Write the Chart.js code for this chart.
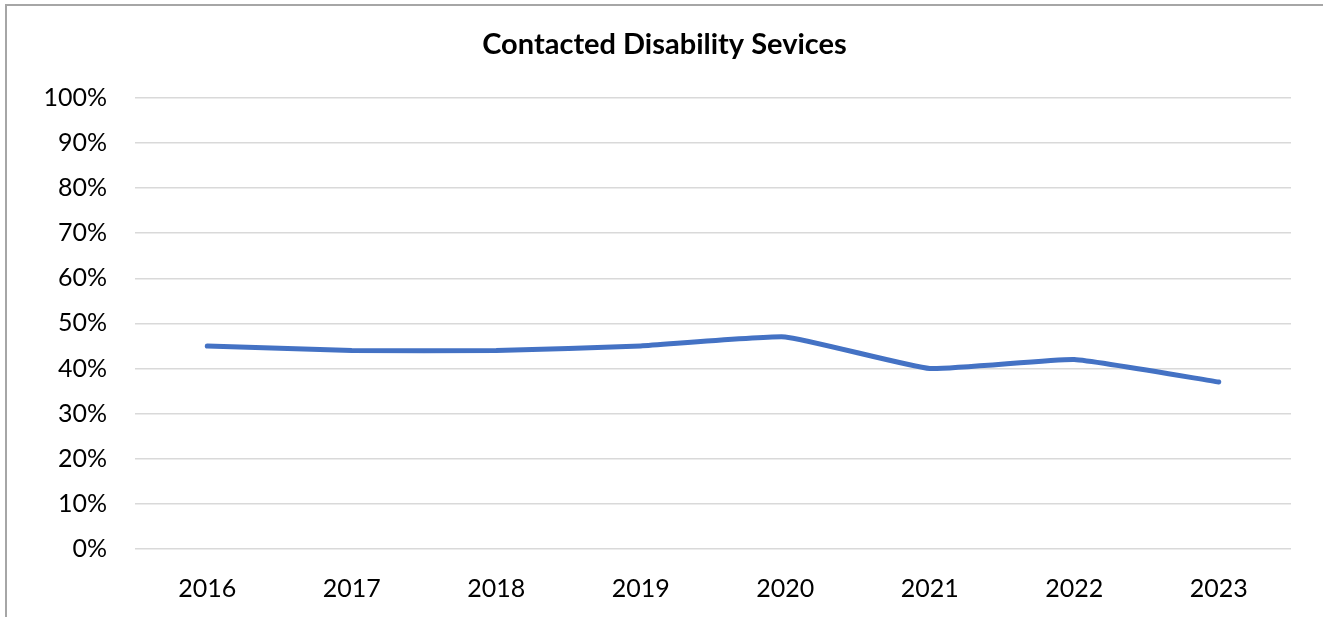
<!DOCTYPE html>
<html>
<head>
<meta charset="utf-8">
<script src="https://cdn.jsdelivr.net/npm/chart.js@4"></script>
<style>
  html, body { margin: 0; padding: 0; background: #fff; overflow: hidden; }
  #frame {
    position: absolute; left: 5px; top: 4px; width: 1400px; height: 700px;
    border-left: 2px solid #a6a6a6; border-top: 2px solid #a6a6a6;
  }
  #wrap { position: absolute; left: 0; top: 0; width: 1323px; height: 617px; }
</style>
</head>
<body>
<div id="frame"></div>
<div id="wrap"><canvas id="myChart"></canvas></div>
<script>
const years = ['2016', '2017', '2018', '2019', '2020', '2021', '2022', '2023'];
const contacted = [45, 44, 44, 45, 47, 40, 42, 37];
const yTicks = [0, 10, 20, 30, 40, 50, 60, 70, 80, 90, 100];

const fontFamily = "Lato, 'Open Sans', sans-serif";

const chart = new Chart("myChart", {
  type: "line",
  data: {
    labels: years,
    datasets: [{
      data: contacted,
      borderColor: '#4472C4',
      borderWidth: 5,
      borderCapStyle: 'round',
      borderJoinStyle: 'round',
      pointRadius: 0,
      tension: 0.12,
      fill: false
    }]
  },
  options: {
    responsive: true,
    maintainAspectRatio: false,
    animation: false,
    layout: { padding: { left: 38, right: 32, top: 0, bottom: 0 } },
    plugins: {
      legend: { display: false },
      tooltip: { enabled: false },
      title: {
        display: true,
        text: 'Contacted Disability Sevices',
        color: '#000',
        font: { family: fontFamily, size: 29, weight: 'bold', lineHeight: 1.2 },
        padding: { top: 27, bottom: 36 }
      }
    },
    scales: {
      x: {
        offset: true,
        grid: { display: false },
        border: { display: false },
        ticks: {
          color: '#000',
          padding: 17,
          maxRotation: 0,
          font: { family: fontFamily, size: 25 }
        },
        afterFit: function (scale) { scale.height = 68; }
      },
      y: {
        min: 0,
        max: 100,
        afterBuildTicks: function (scale) {
          scale.ticks = yTicks.map(v => ({ value: v }));
        },
        grid: { color: '#d9d9d9', lineWidth: 1.5, drawTicks: false },
        border: { display: false },
        ticks: {
          color: '#000',
          padding: 28,
          font: { family: fontFamily, size: 25 },
          callback: v => v + '%'
        },
        afterFit: function (scale) { scale.width = 97; }
      }
    }
  }
});
</script>
</body>
</html>
